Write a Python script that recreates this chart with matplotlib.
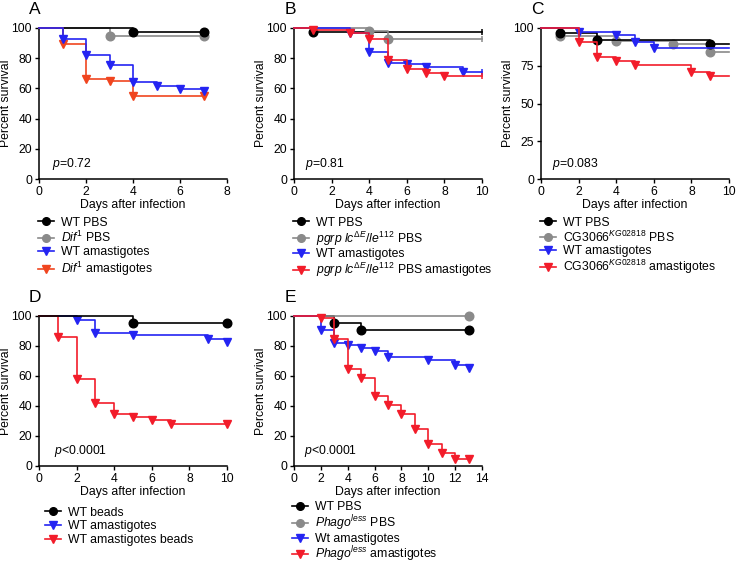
import matplotlib
matplotlib.use("Agg")
import matplotlib.pyplot as plt
from matplotlib.lines import Line2D

plt.rcParams['font.family'] = ['Liberation Sans', 'DejaVu Sans']
plt.rcParams['mathtext.fontset'] = 'custom'
plt.rcParams['mathtext.rm'] = 'Liberation Sans'
plt.rcParams['mathtext.it'] = 'Liberation Sans:italic'
plt.rcParams['mathtext.bf'] = 'Liberation Sans:bold'
plt.rcParams['font.size'] = 8.8

BLACK = '#000000'
GRAY = '#8a8a8a'
BLUE = '#2424f2'
RED_A = '#f0451f'
RED = '#f21c2a'

# ---- panel A ----
a_wt_pbs_t = [4, 7]
a_wt_pbs_s = [97.5, 97.5]
a_dif_pbs_t = [3, 7]
a_dif_pbs_s = [95, 95]
a_wt_ama_t = [1, 2, 3, 4, 5, 6, 7]
a_wt_ama_s = [93, 82, 75.5, 64, 61.5, 59.5, 58]
a_dif_ama_t = [1, 2, 3, 4, 7]
a_dif_ama_s = [89.5, 66, 65, 55, 55]

# ---- panel B ----
b_wt_pbs_t = [1]
b_wt_pbs_s = [97.5]
b_pgrp_pbs_t = [4, 5]
b_pgrp_pbs_s = [98, 93]
b_wt_ama_t = [3, 4, 5, 6, 7, 9]
b_wt_ama_s = [97, 84, 77, 76, 74, 71]
b_pgrp_ama_t = [1, 3, 4, 5, 6, 7, 8]
b_pgrp_ama_s = [99, 97, 93, 79, 73, 70.5, 68]

# ---- panel C ----
c_wt_pbs_t = [1, 3, 9]
c_wt_pbs_s = [97, 92, 89.5]
c_cg_pbs_t = [1, 4, 7, 9]
c_cg_pbs_s = [94.5, 91.5, 89.5, 84]
c_wt_ama_t = [2, 4, 5, 6]
c_wt_ama_s = [97.5, 95.5, 90.5, 86.5]
c_cg_ama_t = [2, 3, 4, 5, 8, 9]
c_cg_ama_s = [91, 80.5, 78, 75.5, 71, 68]

# ---- panel D ----
d_wt_beads_t = [5, 10]
d_wt_beads_s = [95.5, 95.5]
d_wt_ama_t = [2, 3, 5, 9, 10]
d_wt_ama_s = [97.5, 89, 87.5, 85, 82.5]
d_ama_beads_t = [1, 2, 3, 4, 5, 6, 7, 10]
d_ama_beads_s = [86, 58, 42, 35, 33, 30.5, 28, 28]

# ---- panel E ----
e_wt_pbs_t = [3, 5, 13]
e_wt_pbs_s = [95.5, 91, 91]
e_phago_pbs_t = [13]
e_phago_pbs_s = [100]
e_wt_ama_t = [2, 3, 4, 5, 6, 7, 10, 12, 13]
e_wt_ama_s = [91, 82, 80.5, 78.5, 76.5, 72.5, 71, 67.5, 65.5]
e_phago_ama_t = [2, 3, 4, 5, 6, 7, 8, 9, 10, 11, 12, 13]
e_phago_ama_s = [99, 84.5, 64.5, 59, 46.5, 40.5, 34.5, 24.5, 15, 8.5, 4.5, 4.5]

W, H = 736, 565
fig = plt.figure(figsize=(W / 100, H / 100), dpi=100)


def make_ax(x0, y_top, y_bot, xmax, xticks, yticks, letter, ptext, ptx):
    ax = fig.add_axes([x0 / W, 1 - y_bot / H, 188 / W, (y_bot - y_top) / H])
    ax.set_xlim(0, xmax)
    ax.set_ylim(0, 100)
    ax.set_xticks(xticks)
    ax.set_yticks(yticks)
    for s in ['top', 'right']:
        ax.spines[s].set_visible(False)
    for s in ['left', 'bottom']:
        ax.spines[s].set_linewidth(1.1)
    ax.tick_params(direction='out', length=3, width=1.0, pad=2, labelsize=8.8)
    ax.set_xlabel('Days after infection', labelpad=1)
    ax.set_ylabel('Percent survival', labelpad=0)
    ax.text(ptx, 0.1, ptext, transform=ax.transAxes, va='center', ha='left')
    ax.text(-0.02, 1.125, letter, transform=ax.transAxes, fontsize=12.5,
            va='center', ha='center')
    return ax


def km(ax, t, s, end, color, marker, z, endtick=False):
    xs = [0] + list(t) + [end]
    ys = [100] + list(s) + [s[-1]]
    ax.step(xs, ys, where='post', color=color, lw=1.2, zorder=z, clip_on=False)
    ax.plot(t, s, linestyle='none', marker=marker, color=color, ms=6.2,
            zorder=z + 0.5, clip_on=False)
    if endtick:
        ax.plot([end], [s[-1]], marker='|', color=color, ms=5, mew=1.1,
                zorder=z, clip_on=False)


def leg(ax, labels, colors, markers, x, y, spacing=0.15):
    handles = [Line2D([0], [0], color=c, marker=m, ms=5.5, lw=1.2)
               for c, m in zip(colors, markers)]
    ax.legend(handles, labels, loc='upper left', bbox_to_anchor=(x, y),
              frameon=False, borderpad=0, borderaxespad=0, handlelength=1.3,
              handletextpad=0.6, labelspacing=spacing, fontsize=8.8)


# A
axA = make_ax(39, 28, 179, 8, [0, 2, 4, 6, 8], [0, 20, 40, 60, 80, 100], 'A',
              r'$\mathit{p}$=0.72', 0.07)
km(axA, a_dif_pbs_t, a_dif_pbs_s, 7, GRAY, 'o', 2)
km(axA, a_wt_pbs_t, a_wt_pbs_s, 7, BLACK, 'o', 3)
km(axA, a_dif_ama_t, a_dif_ama_s, 7, RED_A, 'v', 4)
km(axA, a_wt_ama_t, a_wt_ama_s, 7, BLUE, 'v', 5)
leg(axA, ['WT PBS', r'$\mathit{Dif}^{1}$ PBS', 'WT amastigotes',
          r'$\mathit{Dif}^{1}$ amastigotes'],
    [BLACK, GRAY, BLUE, RED_A], ['o', 'o', 'v', 'v'], -0.005, -0.25, 0.1)

# B
axB = make_ax(294, 28, 179, 10, [0, 2, 4, 6, 8, 10], [0, 20, 40, 60, 80, 100], 'B',
              r'$\mathit{p}$=0.81', 0.058)
km(axB, b_wt_pbs_t, b_wt_pbs_s, 10, BLACK, 'o', 2, True)
km(axB, b_pgrp_pbs_t, b_pgrp_pbs_s, 10, GRAY, 'o', 3, True)
km(axB, b_wt_ama_t, b_wt_ama_s, 10, BLUE, 'v', 4, True)
km(axB, b_pgrp_ama_t, b_pgrp_ama_s, 10, RED, 'v', 5, True)
pgrp = r'$\mathit{pgrp\ lc}^{\mathit{\Delta E}}\mathit{/le}^{\mathit{112}}$'
leg(axB, ['WT PBS', pgrp + ' PBS', 'WT amastigotes', pgrp + ' PBS amastigotes'],
    [BLACK, GRAY, BLUE, RED], ['o', 'o', 'v', 'v'], -0.005, -0.25, 0.05)

# C
axC = make_ax(541, 28, 179, 10, [0, 2, 4, 6, 8, 10], [0, 25, 50, 75, 100], 'C',
              r'$\mathit{p}$=0.083', 0.058)
km(axC, c_cg_pbs_t, c_cg_pbs_s, 10, GRAY, 'o', 2)
km(axC, c_wt_pbs_t, c_wt_pbs_s, 10, BLACK, 'o', 3)
km(axC, c_wt_ama_t, c_wt_ama_s, 10, BLUE, 'v', 4)
km(axC, c_cg_ama_t, c_cg_ama_s, 10, RED, 'v', 5)
cg = r'CG3066$^{\mathit{KG02818}}$'
leg(axC, ['WT PBS', cg + ' PBS', 'WT amastigotes', cg + ' amastigotes'],
    [BLACK, GRAY, BLUE, RED], ['o', 'o', 'v', 'v'], -0.005, -0.25, 0.05)

# D
axD = make_ax(39, 316, 466, 10, [0, 2, 4, 6, 8, 10], [0, 20, 40, 60, 80, 100], 'D',
              r'$\mathit{p}$<0.0001', 0.08)
km(axD, d_wt_ama_t, d_wt_ama_s, 10, BLUE, 'v', 2)
km(axD, d_ama_beads_t, d_ama_beads_s, 10, RED, 'v', 3)
km(axD, d_wt_beads_t, d_wt_beads_s, 10, BLACK, 'o', 4)
leg(axD, ['WT beads', 'WT amastigotes', 'WT amastigotes beads'],
    [BLACK, BLUE, RED], ['o', 'v', 'v'], 0.03, -0.27, 0.15)

# E
axE = make_ax(294, 316, 466, 14, [0, 2, 4, 6, 8, 10, 12, 14],
              [0, 20, 40, 60, 80, 100], 'E', r'$\mathit{p}$<0.0001', 0.055)
km(axE, e_wt_pbs_t, e_wt_pbs_s, 13, BLACK, 'o', 2)
km(axE, e_phago_pbs_t, e_phago_pbs_s, 13, GRAY, 'o', 3)
km(axE, e_wt_ama_t, e_wt_ama_s, 13, BLUE, 'v', 4)
km(axE, e_phago_ama_t, e_phago_ama_s, 13, RED, 'v', 5)
ph = r'$\mathit{Phago}^{\mathit{less}}$'
leg(axE, ['WT PBS', ph + ' PBS', 'Wt amastigotes', ph + ' amastigotes'],
    [BLACK, GRAY, BLUE, RED], ['o', 'o', 'v', 'v'], -0.01, -0.235, 0.0)

fig.savefig('out.png', dpi=100)
